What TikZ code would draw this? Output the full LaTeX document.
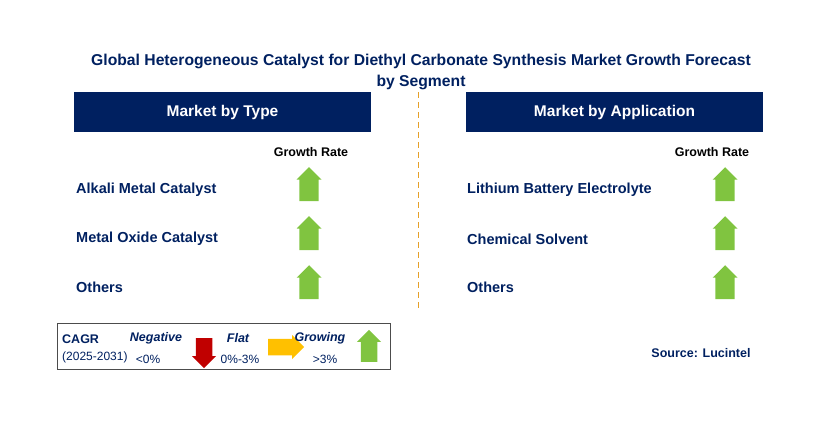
\documentclass[tikz,border=0pt]{standalone}
\usepackage{fontspec}
\setmainfont{Liberation Sans}
\usetikzlibrary{positioning,shapes.arrows}
\definecolor{navy}{RGB}{0,32,96}
\definecolor{upgreen}{RGB}{128,196,64}
\definecolor{downred}{RGB}{192,0,0}
\definecolor{flatyellow}{RGB}{255,192,0}
\definecolor{dashorange}{RGB}{230,160,40}
\tikzset{
  header/.style={fill=navy,text=white,font=\bfseries\fontsize{15.5}{18}\selectfont,minimum width=297,minimum height=40,inner sep=0},
  item/.style={anchor=west,text=navy,font=\bfseries\fontsize{14.5}{17}\selectfont,inner sep=0},
  rate/.style={text=black,font=\bfseries\fontsize{12.5}{15}\selectfont,inner sep=0},
  uparrow/.style={single arrow,shape border rotate=90,fill=upgreen,minimum height=34,minimum width=25,single arrow head extend=1pt,single arrow tip angle=90,inner sep=3pt},
  legtitle/.style={text=navy,font=\bfseries\itshape\fontsize{12.5}{15}\selectfont,inner sep=0},
  legval/.style={text=navy,font=\fontsize{12}{14}\selectfont,inner sep=0},
}
\begin{document}
\begin{tikzpicture}[x=1pt,y=-1pt]
\useasboundingbox (0,0) rectangle (829,437);

\node[text=navy,align=center,font=\bfseries\fontsize{15.7}{20.5}\selectfont] (title) at (421,72)
  {Global Heterogeneous Catalyst for Diethyl Carbonate Synthesis Market Growth Forecast\\by Segment};

\node[header] (typehead) at (222.5,112) {Market by Type};
\node[header] (apphead) at (614.5,112) {Market by Application};

\coordinate (dtop) at (418,92);
\coordinate (dbot) at (418,310);
\draw[dashorange,thick,dash pattern=on 6pt off 4pt] (dtop) -- (dbot);

\node[rate] (rate1) at (311,152) {Growth Rate};
\node[rate] (rate2) at (712,152) {Growth Rate};

\node[item] (t1) at (76,190) {Alkali Metal Catalyst};
\node[item] (t2) at (76,239) {Metal Oxide Catalyst};
\node[item] (t3) at (76,287) {Others};
\node[item] (a1) at (467,190) {Lithium Battery Electrolyte};
\node[item] (a2) at (467,239) {Chemical Solvent};
\node[item] (a3) at (467,287) {Others};

\foreach \y [count=\i] in {189,238,287}{
  \node[uparrow] (tarr\i) at (309,\y) {};
  \node[uparrow] (aarr\i) at (725,\y) {};
}

% legend
\node[draw=black!70,minimum width=333,minimum height=46,inner sep=0] (legend) at (223.5,346.5) {};
\node[anchor=west,text=navy,font=\bfseries\fontsize{12.5}{15}\selectfont,inner sep=0] (cagr) at (62,339) {CAGR};
\node[anchor=west,legval] (years) at (62,357) {(2025-2031)};
\node[legtitle] (neg) at (156,338) {Negative};
\node[legval] (negv) at (148,359) {<0\%};
\node[single arrow,shape border rotate=270,fill=downred,minimum height=30,minimum width=24,single arrow head extend=1pt,single arrow tip angle=90,inner sep=2pt] (darr) at (204,349) {};
\node[legtitle] (flat) at (238,338) {Flat};
\node[legval] (flatv) at (240,359) {0\%-3\%};
\node[single arrow,fill=flatyellow,minimum height=36,minimum width=24,single arrow head extend=1pt,single arrow tip angle=90,inner sep=2pt] (rarr) at (282,347) {};
\node[legtitle] (grow) at (320,338) {Growing};
\node[legval] (growv) at (325,359) {>3\%};
\node[single arrow,shape border rotate=90,fill=upgreen,minimum height=32,minimum width=24,single arrow head extend=1pt,single arrow tip angle=90,inner sep=2pt] (garr) at (369,350) {};

\node[text=navy,font=\bfseries\fontsize{12.5}{15}\selectfont] (source) at (701,353) {Source: Lucintel};
\end{tikzpicture}
\end{document}
